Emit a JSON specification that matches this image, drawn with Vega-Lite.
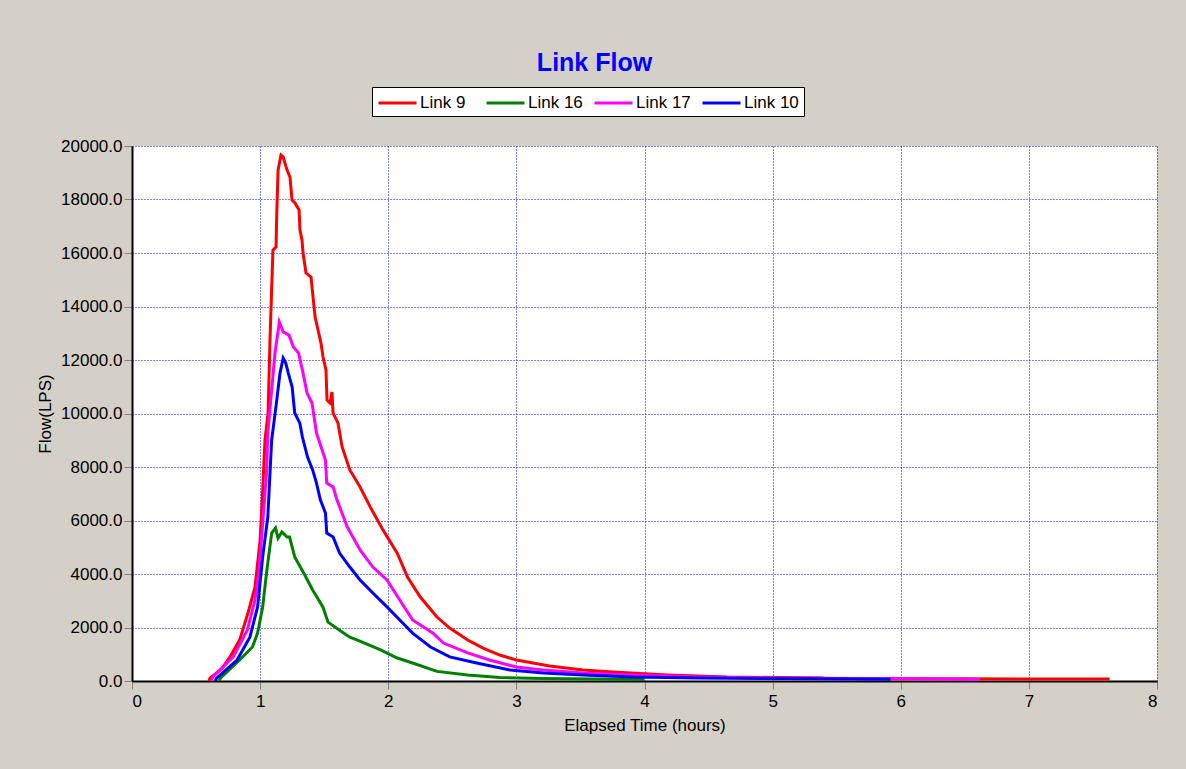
{
  "$schema": "https://vega.github.io/schema/vega-lite/v6.json",
  "width": 1025,
  "height": 535,
  "autosize": "none",
  "padding": {"left": 132, "top": 146, "right": 29, "bottom": 88},
  "background": "#D4D0C8",
  "view": {"fill": "#FFFFFF", "stroke": null},
  "title": {
    "text": "Link Flow",
    "font": "Liberation Sans",
    "fontSize": 25,
    "fontWeight": "bold",
    "color": "#0000FF",
    "anchor": "middle",
    "frame": "group",
    "dx": -50,
    "offset": 11
  },
  "data": {
    "values": [
      {"link": "Link 9", "t": 0.60, "q": 0},
      {"link": "Link 9", "t": 0.61, "q": 110},
      {"link": "Link 9", "t": 0.70, "q": 450},
      {"link": "Link 9", "t": 0.765, "q": 900},
      {"link": "Link 9", "t": 0.84, "q": 1530},
      {"link": "Link 9", "t": 0.905, "q": 2540},
      {"link": "Link 9", "t": 0.96, "q": 3510},
      {"link": "Link 9", "t": 1.0, "q": 5270},
      {"link": "Link 9", "t": 1.02, "q": 7140},
      {"link": "Link 9", "t": 1.038, "q": 9010},
      {"link": "Link 9", "t": 1.062, "q": 10020},
      {"link": "Link 9", "t": 1.077, "q": 12750},
      {"link": "Link 9", "t": 1.10, "q": 16110},
      {"link": "Link 9", "t": 1.124, "q": 16220},
      {"link": "Link 9", "t": 1.13, "q": 17490},
      {"link": "Link 9", "t": 1.14, "q": 19100},
      {"link": "Link 9", "t": 1.163, "q": 19660},
      {"link": "Link 9", "t": 1.18, "q": 19590},
      {"link": "Link 9", "t": 1.21, "q": 19100},
      {"link": "Link 9", "t": 1.233, "q": 18840},
      {"link": "Link 9", "t": 1.249, "q": 17980},
      {"link": "Link 9", "t": 1.272, "q": 17870},
      {"link": "Link 9", "t": 1.304, "q": 17610},
      {"link": "Link 9", "t": 1.311, "q": 16860},
      {"link": "Link 9", "t": 1.327, "q": 16480},
      {"link": "Link 9", "t": 1.335, "q": 16000},
      {"link": "Link 9", "t": 1.358, "q": 15250},
      {"link": "Link 9", "t": 1.397, "q": 15100},
      {"link": "Link 9", "t": 1.413, "q": 14350},
      {"link": "Link 9", "t": 1.429, "q": 13610},
      {"link": "Link 9", "t": 1.452, "q": 13120},
      {"link": "Link 9", "t": 1.475, "q": 12630},
      {"link": "Link 9", "t": 1.491, "q": 12110},
      {"link": "Link 9", "t": 1.514, "q": 11630},
      {"link": "Link 9", "t": 1.522, "q": 10500},
      {"link": "Link 9", "t": 1.546, "q": 10390},
      {"link": "Link 9", "t": 1.561, "q": 10800},
      {"link": "Link 9", "t": 1.569, "q": 10020},
      {"link": "Link 9", "t": 1.608, "q": 9640},
      {"link": "Link 9", "t": 1.64, "q": 8750},
      {"link": "Link 9", "t": 1.70, "q": 7890},
      {"link": "Link 9", "t": 1.78, "q": 7250},
      {"link": "Link 9", "t": 1.86, "q": 6500},
      {"link": "Link 9", "t": 1.96, "q": 5640},
      {"link": "Link 9", "t": 2.07, "q": 4780},
      {"link": "Link 9", "t": 2.15, "q": 3890},
      {"link": "Link 9", "t": 2.25, "q": 3140},
      {"link": "Link 9", "t": 2.38, "q": 2390},
      {"link": "Link 9", "t": 2.48, "q": 1980},
      {"link": "Link 9", "t": 2.62, "q": 1530},
      {"link": "Link 9", "t": 2.74, "q": 1230},
      {"link": "Link 9", "t": 2.87, "q": 970},
      {"link": "Link 9", "t": 3.0, "q": 785},
      {"link": "Link 9", "t": 3.26, "q": 560},
      {"link": "Link 9", "t": 3.52, "q": 411},
      {"link": "Link 9", "t": 3.75, "q": 336},
      {"link": "Link 9", "t": 4.18, "q": 224},
      {"link": "Link 9", "t": 4.64, "q": 150},
      {"link": "Link 9", "t": 5.39, "q": 112},
      {"link": "Link 9", "t": 5.40, "q": 90},
      {"link": "Link 9", "t": 6.5, "q": 80},
      {"link": "Link 9", "t": 7.63, "q": 75},
      {"link": "Link 16", "t": 0.68, "q": 0},
      {"link": "Link 16", "t": 0.69, "q": 110},
      {"link": "Link 16", "t": 0.84, "q": 785},
      {"link": "Link 16", "t": 0.94, "q": 1270},
      {"link": "Link 16", "t": 0.98, "q": 1790},
      {"link": "Link 16", "t": 1.02, "q": 2770},
      {"link": "Link 16", "t": 1.05, "q": 4040},
      {"link": "Link 16", "t": 1.09, "q": 5530},
      {"link": "Link 16", "t": 1.12, "q": 5720},
      {"link": "Link 16", "t": 1.14, "q": 5340},
      {"link": "Link 16", "t": 1.17, "q": 5570},
      {"link": "Link 16", "t": 1.21, "q": 5380},
      {"link": "Link 16", "t": 1.23, "q": 5380},
      {"link": "Link 16", "t": 1.27, "q": 4640},
      {"link": "Link 16", "t": 1.34, "q": 4040},
      {"link": "Link 16", "t": 1.41, "q": 3400},
      {"link": "Link 16", "t": 1.49, "q": 2770},
      {"link": "Link 16", "t": 1.53, "q": 2200},
      {"link": "Link 16", "t": 1.62, "q": 1900},
      {"link": "Link 16", "t": 1.70, "q": 1640},
      {"link": "Link 16", "t": 1.76, "q": 1530},
      {"link": "Link 16", "t": 1.94, "q": 1160},
      {"link": "Link 16", "t": 2.07, "q": 860},
      {"link": "Link 16", "t": 2.19, "q": 673},
      {"link": "Link 16", "t": 2.38, "q": 360},
      {"link": "Link 16", "t": 2.62, "q": 224},
      {"link": "Link 16", "t": 2.87, "q": 130},
      {"link": "Link 16", "t": 3.2, "q": 90},
      {"link": "Link 16", "t": 4.0, "q": 60},
      {"link": "Link 17", "t": 0.62, "q": 0},
      {"link": "Link 17", "t": 0.63, "q": 150},
      {"link": "Link 17", "t": 0.79, "q": 900},
      {"link": "Link 17", "t": 0.90, "q": 1900},
      {"link": "Link 17", "t": 0.96, "q": 3030},
      {"link": "Link 17", "t": 0.99, "q": 4040},
      {"link": "Link 17", "t": 1.02, "q": 5900},
      {"link": "Link 17", "t": 1.05, "q": 7775},
      {"link": "Link 17", "t": 1.06, "q": 9270},
      {"link": "Link 17", "t": 1.116, "q": 12260},
      {"link": "Link 17", "t": 1.15, "q": 13420},
      {"link": "Link 17", "t": 1.18, "q": 13050},
      {"link": "Link 17", "t": 1.225, "q": 12930},
      {"link": "Link 17", "t": 1.26, "q": 12490},
      {"link": "Link 17", "t": 1.30, "q": 12260},
      {"link": "Link 17", "t": 1.335, "q": 11510},
      {"link": "Link 17", "t": 1.366, "q": 10770},
      {"link": "Link 17", "t": 1.405, "q": 10390},
      {"link": "Link 17", "t": 1.44, "q": 9270},
      {"link": "Link 17", "t": 1.51, "q": 8260},
      {"link": "Link 17", "t": 1.52, "q": 7400},
      {"link": "Link 17", "t": 1.57, "q": 7250},
      {"link": "Link 17", "t": 1.60, "q": 6770},
      {"link": "Link 17", "t": 1.68, "q": 5760},
      {"link": "Link 17", "t": 1.78, "q": 4900},
      {"link": "Link 17", "t": 1.88, "q": 4260},
      {"link": "Link 17", "t": 1.99, "q": 3775},
      {"link": "Link 17", "t": 2.09, "q": 3030},
      {"link": "Link 17", "t": 2.19, "q": 2280},
      {"link": "Link 17", "t": 2.35, "q": 1790},
      {"link": "Link 17", "t": 2.43, "q": 1420},
      {"link": "Link 17", "t": 2.62, "q": 1050},
      {"link": "Link 17", "t": 2.79, "q": 785},
      {"link": "Link 17", "t": 3.0, "q": 523},
      {"link": "Link 17", "t": 3.21, "q": 411},
      {"link": "Link 17", "t": 3.52, "q": 300},
      {"link": "Link 17", "t": 3.91, "q": 224},
      {"link": "Link 17", "t": 4.43, "q": 150},
      {"link": "Link 17", "t": 5.0, "q": 110},
      {"link": "Link 17", "t": 6.0, "q": 80},
      {"link": "Link 17", "t": 6.62, "q": 60},
      {"link": "Link 10", "t": 0.65, "q": 0},
      {"link": "Link 10", "t": 0.66, "q": 110},
      {"link": "Link 10", "t": 0.82, "q": 785},
      {"link": "Link 10", "t": 0.92, "q": 1640},
      {"link": "Link 10", "t": 0.98, "q": 2770},
      {"link": "Link 10", "t": 1.02, "q": 4640},
      {"link": "Link 10", "t": 1.06, "q": 6130},
      {"link": "Link 10", "t": 1.09, "q": 9010},
      {"link": "Link 10", "t": 1.10, "q": 9380},
      {"link": "Link 10", "t": 1.13, "q": 10500},
      {"link": "Link 10", "t": 1.155, "q": 11510},
      {"link": "Link 10", "t": 1.18, "q": 12070},
      {"link": "Link 10", "t": 1.20, "q": 11890},
      {"link": "Link 10", "t": 1.22, "q": 11510},
      {"link": "Link 10", "t": 1.25, "q": 10990},
      {"link": "Link 10", "t": 1.27, "q": 10020},
      {"link": "Link 10", "t": 1.31, "q": 9640},
      {"link": "Link 10", "t": 1.33, "q": 9120},
      {"link": "Link 10", "t": 1.37, "q": 8370},
      {"link": "Link 10", "t": 1.41, "q": 7890},
      {"link": "Link 10", "t": 1.44, "q": 7400},
      {"link": "Link 10", "t": 1.47, "q": 6770},
      {"link": "Link 10", "t": 1.51, "q": 6280},
      {"link": "Link 10", "t": 1.52, "q": 5530},
      {"link": "Link 10", "t": 1.57, "q": 5380},
      {"link": "Link 10", "t": 1.62, "q": 4780},
      {"link": "Link 10", "t": 1.70, "q": 4260},
      {"link": "Link 10", "t": 1.78, "q": 3775},
      {"link": "Link 10", "t": 1.88, "q": 3290},
      {"link": "Link 10", "t": 1.99, "q": 2770},
      {"link": "Link 10", "t": 2.09, "q": 2280},
      {"link": "Link 10", "t": 2.19, "q": 1790},
      {"link": "Link 10", "t": 2.33, "q": 1270},
      {"link": "Link 10", "t": 2.48, "q": 900},
      {"link": "Link 10", "t": 2.69, "q": 673},
      {"link": "Link 10", "t": 2.95, "q": 411},
      {"link": "Link 10", "t": 3.21, "q": 300},
      {"link": "Link 10", "t": 3.52, "q": 224},
      {"link": "Link 10", "t": 3.91, "q": 150},
      {"link": "Link 10", "t": 4.43, "q": 112},
      {"link": "Link 10", "t": 5.0, "q": 90},
      {"link": "Link 10", "t": 5.92, "q": 70}
    ]
  },
  "mark": {"type": "line", "strokeWidth": 3, "interpolate": "linear", "clip": true},
  "encoding": {
    "x": {
      "field": "t",
      "type": "quantitative",
      "scale": {"domain": [0, 8], "nice": false, "zero": false},
      "axis": {
        "title": "Elapsed Time (hours)",
        "values": [0, 1, 2, 3, 4, 5, 6, 7, 8],
        "format": "d",
        "grid": true,
        "gridColor": "#0000FF",
        "gridDash": [1, 2],
        "gridWidth": 1,
        "domainColor": "#000000",
        "domainWidth": 2,
        "tickColor": "#808080",
        "tickSize": 8,
        "tickWidth": 1,
        "labelFont": "Liberation Sans",
        "labelFontSize": 17,
        "labelColor": "#000000",
        "labelPadding": 4,
        "titleFont": "Liberation Sans",
        "titleFontSize": 17,
        "titleFontWeight": "normal",
        "titleColor": "#000000",
        "titlePadding": 8
      }
    },
    "y": {
      "field": "q",
      "type": "quantitative",
      "scale": {"domain": [0, 20000], "nice": false},
      "axis": {
        "title": "Flow(LPS)",
        "values": [0, 2000, 4000, 6000, 8000, 10000, 12000, 14000, 16000, 18000, 20000],
        "format": ".1f",
        "grid": true,
        "gridColor": "#0000FF",
        "gridDash": [1, 2],
        "gridWidth": 1,
        "domainColor": "#000000",
        "domainWidth": 2,
        "tickColor": "#808080",
        "tickSize": 8,
        "tickWidth": 1,
        "labelFont": "Liberation Sans",
        "labelFontSize": 17,
        "labelColor": "#000000",
        "labelPadding": 2,
        "titleFont": "Liberation Sans",
        "titleFontSize": 17,
        "titleFontWeight": "normal",
        "titleColor": "#000000",
        "titlePadding": 6
      }
    },
    "color": {
      "field": "link",
      "type": "nominal",
      "scale": {
        "domain": ["Link 9", "Link 16", "Link 17", "Link 10"],
        "range": ["#FF0000", "#008000", "#FF00FF", "#0000FF"]
      },
      "legend": {
        "title": null,
        "orient": "none",
        "legendX": 240,
        "legendY": -59,
        "direction": "horizontal",
        "columns": 4,
        "gridAlign": "all",
        "fillColor": "#FFFFFF",
        "strokeColor": "#000000",
        "padding": 5,
        "labelFont": "Liberation Sans",
        "labelFontSize": 17,
        "labelColor": "#000000",
        "symbolType": "M-1,0H3",
        "symbolSize": 361,
        "symbolStrokeWidth": 3,
        "labelOffset": 21,
        "columnPadding": 5
      }
    }
  }
}
